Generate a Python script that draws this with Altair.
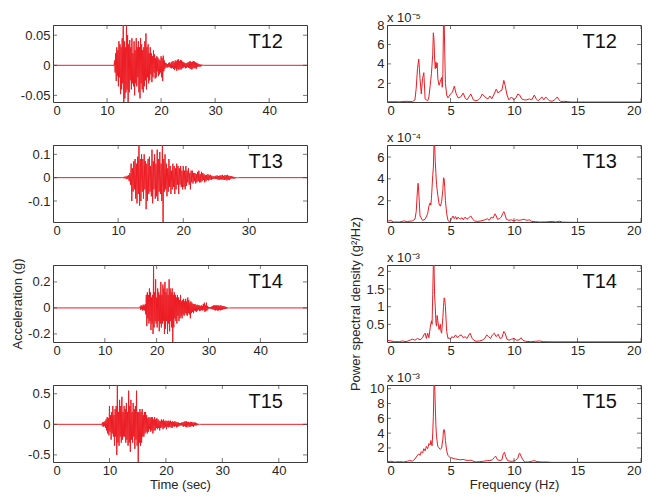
import altair as alt
import pandas as pd

FONT = "Liberation Sans"
RED = "#ED1C24"
BOX = "#3a3a3a"
TXT = "#262626"

names = ["T12", "T13", "T14", "T15"]

# ---- acceleration records (g), one sample every DT seconds from the onset time
DT = 0.1
acc_onset = {"T12": 11.4, "T13": 10.8, "T14": 16.8, "T15": 8.6}
acc_xmax = {"T12": 47, "T13": 39, "T14": 49, "T15": 45}
acc_ydom = {"T12": [-0.061, 0.067], "T13": [-0.19, 0.14], "T14": [-0.262, 0.33], "T15": [-0.616, 0.643]}
acc_yticks = {"T12": [-0.05, 0, 0.05], "T13": [-0.1, 0, 0.1], "T14": [-0.2, 0, 0.2], "T15": [-0.5, 0, 0.5]}
acc_xticks = {"T12": [0, 10, 20, 30, 40], "T13": [0, 10, 20, 30], "T14": [0, 10, 20, 30, 40], "T15": [0, 10, 20, 30, 40]}

acc_T12 = [0.008, -0.012, 0.02, -0.026, 0.03, -0.018,
           0.025, -0.035, 0.04, -0.02, 0.035, -0.048, 0.03, -0.04,
           0.045, -0.03, 0.075, -0.065, 0.04, -0.055, 0.03, -0.045, 0.075, -0.04, 0.05, -0.065,
           0.035, -0.045, 0.042, -0.025, 0.03, -0.04, 0.045, -0.03, 0.02, -0.035,
           0.04, -0.05, 0.025, -0.03, 0.045, -0.035, 0.03, -0.02, 0.04, -0.045,
           0.03, -0.055, 0.045, -0.03, 0.035, -0.04, 0.025, -0.045, 0.03, -0.035,
           0.04, -0.025, 0.053, -0.04, 0.03, -0.02, 0.035, -0.03, 0.02, -0.025,
           0.03, -0.015, 0.02, -0.028, 0.015, -0.02, 0.025, -0.012, 0.018, -0.022,
           0.012, -0.02, 0.015, -0.01, 0.013, -0.018, 0.01, -0.015, 0.008, -0.012,
           0.015, -0.02, 0.012, -0.026, 0.016, -0.01, 0.008, -0.006, 0.004, -0.003,
           0.003, -0.004, 0.002, -0.003, 0.004, -0.003, 0.005, -0.004, 0.003, -0.005,
           0.006, -0.004, 0.007, -0.006, 0.005, -0.008, 0.008, -0.005, 0.007, -0.009,
           0.009, -0.006, 0.01, -0.008, 0.007, -0.006, 0.009, -0.007, 0.008, -0.005,
           0.006, -0.004, 0.005, -0.003, 0.004, -0.005, 0.003, -0.004, 0.004, -0.003,
           0.005, -0.004, 0.006, -0.005, 0.007, -0.006, 0.005, -0.007, 0.006, -0.005,
           0.007, -0.005, 0.006, -0.004, 0.005, -0.006, 0.004, -0.003, 0.003, -0.002,
           0.002, -0.002, 0.0015, -0.002, 0.001, -0.001, 0.001, -0.0005, 0.0005]
acc_T13 = [0.002, -0.003, 0.004, -0.003, 0.005, -0.006, 0.008, -0.006, 0.01, -0.015,
           0.02, -0.03, 0.06, -0.1, 0.04, -0.06, 0.07, -0.05, 0.08, -0.09,
           0.06, -0.11, 0.09, -0.07, 0.15, -0.12, 0.08, -0.1, 0.1, -0.06,
           0.08, -0.09, 0.1, -0.05, 0.07, -0.135, 0.06, -0.1, 0.08, -0.07,
           0.09, -0.06, 0.05, -0.08, 0.12, -0.11, 0.07, -0.05, 0.1, -0.09,
           0.06, -0.08, 0.12, -0.1, 0.08, -0.06, 0.11, -0.07, 0.06, -0.1,
           0.15, -0.2, 0.08, -0.06, 0.1, -0.05, 0.06, -0.08, 0.04, -0.06,
           0.08, -0.04, 0.05, -0.07, 0.03, -0.05, 0.06, -0.04, 0.05, -0.07,
           0.04, -0.05, 0.06, -0.03, 0.05, -0.07, 0.04, -0.03, 0.05, -0.04,
           0.03, -0.05, 0.05, -0.04, 0.03, -0.05, 0.05, -0.035, 0.03, -0.02,
           0.04, -0.03, 0.02, -0.05, 0.03, -0.02, 0.03, -0.025, 0.02, -0.015,
           0.02, -0.025, 0.015, -0.02, 0.025, -0.015, 0.03, -0.02, 0.015, -0.02,
           0.025, -0.015, 0.02, -0.01, 0.015, -0.02, 0.01, -0.015, 0.012, -0.01,
           0.015, -0.012, 0.01, -0.008, 0.012, -0.01, 0.008, -0.006, 0.006, -0.005,
           0.005, -0.006, 0.008, -0.005, 0.01, -0.008, 0.007, -0.01, 0.009, -0.007,
           0.01, -0.008, 0.012, -0.009, 0.008, -0.01, 0.011, -0.008, 0.01, -0.012,
           0.012, -0.009, 0.008, -0.01, 0.007, -0.005, 0.006, -0.004, 0.005, -0.004,
           0.003, -0.004, 0.002, -0.002, 0.001, -0.001, 0.0005]
acc_T14 = [0.01, -0.015, 0.02, -0.01, 0.015, -0.02, 0.025, -0.015, 0.02, -0.02,
           0.03, -0.05, 0.1, -0.14, 0.12, -0.08, 0.1, -0.12, 0.15, -0.1,
           0.12, -0.17, 0.08, -0.12, 0.1, -0.2, 0.35, -0.15, 0.12, -0.1,
           0.22, -0.12, 0.08, -0.15, 0.15, -0.1, 0.12, -0.18, 0.1, -0.12,
           0.2, -0.15, 0.1, -0.12, 0.18, -0.1, 0.15, -0.2, 0.2, -0.16,
           0.12, -0.1, 0.15, -0.2, 0.1, -0.12, 0.22, -0.18, 0.15, -0.1,
           0.12, -0.15, 0.15, -0.27, 0.1, -0.15, 0.12, -0.08, 0.1, -0.1,
           0.08, -0.12, 0.1, -0.06, 0.08, -0.1, 0.06, -0.08, 0.1, -0.06,
           0.05, -0.08, 0.06, -0.05, 0.07, -0.06, 0.05, -0.04, 0.07, -0.05,
           0.05, -0.06, 0.08, -0.04, 0.06, -0.05, 0.04, -0.08, 0.05, -0.04,
           0.04, -0.03, 0.03, -0.04, 0.03, -0.02, 0.03, -0.025, 0.02, -0.03,
           0.025, -0.02, 0.02, -0.015, 0.02, -0.025, 0.015, -0.02, 0.02, -0.015,
           0.015, -0.02, 0.03, -0.015, 0.04, -0.03, 0.02, -0.025, 0.04, -0.02,
           0.015, -0.01, 0.008, -0.005, 0.005, -0.004, 0.006, -0.008, 0.01, -0.01,
           0.015, -0.012, 0.02, -0.015, 0.018, -0.02, 0.02, -0.015, 0.02, -0.02,
           0.018, -0.02, 0.02, -0.015, 0.015, -0.018, 0.02, -0.015, 0.015, -0.012,
           0.015, -0.01, 0.012, -0.008, 0.01, -0.008, 0.006, -0.005, 0.004, -0.003,
           0.002, -0.002, 0.001, -0.001]
acc_T15 = [0.01, -0.02, 0.03, -0.04, 0.04, -0.03, 0.05, -0.06, 0.08, -0.1,
           0.12, -0.15, 0.1, -0.18, 0.3, -0.12, 0.15, -0.25, 0.2, -0.15,
           0.3, -0.2, 0.15, -0.35, 0.25, -0.2, 0.3, -0.5, 0.68, -0.3,
           0.2, -0.35, 0.4, -0.2, 0.3, -0.3, 0.45, -0.25, 0.2, -0.2,
           0.3, -0.2, 0.25, -0.3, 0.35, -0.25, 0.2, -0.35, 0.55, -0.3,
           0.3, -0.45, 0.4, -0.25, 0.2, -0.3, 0.35, -0.2, 0.25, -0.4,
           0.3, -0.25, 0.55, -0.35, 0.2, -0.65, 0.2, -0.3, 0.25, -0.35,
           0.2, -0.3, 0.25, -0.2, 0.15, -0.2, 0.2, -0.15, 0.2, -0.12,
           0.15, -0.15, 0.1, -0.12, 0.12, -0.08, 0.1, -0.12, 0.12, -0.1,
           0.12, -0.15, 0.08, -0.1, 0.12, -0.1, 0.08, -0.06, 0.1, -0.08,
           0.08, -0.06, 0.06, -0.1, 0.05, -0.06, 0.08, -0.05, 0.06, -0.08,
           0.08, -0.06, 0.05, -0.04, 0.06, -0.08, 0.05, -0.04, 0.06, -0.05,
           0.05, -0.04, 0.06, -0.05, 0.04, -0.06, 0.05, -0.03, 0.04, -0.04,
           0.05, -0.03, 0.04, -0.05, 0.03, -0.04, 0.03, -0.03, 0.02, -0.02,
           0.02, -0.02, 0.03, -0.02, 0.03, -0.04, 0.04, -0.03, 0.05, -0.04,
           0.05, -0.05, 0.04, -0.03, 0.04, -0.04, 0.03, -0.04, 0.04, -0.03,
           0.04, -0.03, 0.03, -0.04, 0.03, -0.02, 0.03, -0.02, 0.02, -0.015,
           0.01, -0.01, 0.005, -0.003, 0.002]
acc_values = {"T12": acc_T12, "T13": acc_T13, "T14": acc_T14, "T15": acc_T15}

# ---- power spectral density (frequency Hz, PSD in units of 10^exp g^2/Hz)
psd_T12 = [(0.0, 0.1), (0.5, 0.12), (1.0, 0.1), (1.5, 0.15), (2.0, 0.12), (2.2, 0.3), (2.3, 1.5), (2.4, 3.5),
           (2.5, 4.5), (2.6, 2.5), (2.7, 0.9), (2.8, 2.5), (2.9, 3.1), (3.0, 0.4), (3.1, 0.3), (3.2, 0.2),
           (3.3, 0.6), (3.4, 1.8), (3.5, 3.0), (3.6, 5.0), (3.65, 7.2), (3.7, 6.5), (3.75, 4.5), (3.8, 3.5),
           (3.85, 4.2), (3.9, 3.6), (3.95, 4.1), (4.0, 2.5), (4.1, 1.8), (4.2, 2.2), (4.3, 2.6), (4.35, 1.6),
           (4.4, 3.0), (4.45, 8.5), (4.5, 8.5), (4.55, 5.0), (4.6, 2.0), (4.7, 0.8), (4.8, 0.5), (4.9, 0.7),
           (5.0, 0.9), (5.15, 1.1), (5.3, 1.7), (5.45, 0.9), (5.6, 0.5), (5.8, 0.6), (6.0, 1.0), (6.15, 0.5),
           (6.3, 0.3), (6.45, 0.6), (6.6, 0.9), (6.8, 0.3), (7.0, 0.2), (7.2, 0.3), (7.35, 0.5), (7.5, 0.9),
           (7.65, 0.7), (7.8, 0.5), (7.95, 0.4), (8.1, 0.7), (8.25, 0.4), (8.4, 0.8), (8.6, 1.4), (8.75, 1.0),
           (8.9, 1.2), (9.05, 1.3), (9.2, 2.3), (9.3, 1.8), (9.45, 0.8), (9.6, 0.3), (9.8, 0.6), (10.0, 0.3),
           (10.15, 0.5), (10.3, 0.9), (10.45, 0.8), (10.6, 0.4), (10.8, 0.3), (11.0, 0.3), (11.2, 0.4), (11.4, 0.3),
           (11.6, 0.8), (11.75, 0.4), (11.9, 0.2), (12.05, 0.4), (12.2, 0.6), (12.35, 0.3), (12.5, 0.6), (12.65, 0.4),
           (12.8, 0.2), (13.0, 0.15), (13.2, 0.3), (13.4, 0.6), (13.55, 0.3), (13.7, 0.1), (13.9, 0.15), (14.5, 0.08),
           (16.0, 0.08), (20.0, 0.08)]
psd_T13 = [(0.0, 0.1), (0.3, 0.2), (0.5, 0.05), (1.0, 0.05), (1.3, 0.15), (1.6, 0.1), (2.0, 0.15), (2.2, 0.3),
           (2.3, 1.0), (2.4, 3.0), (2.45, 3.6), (2.5, 2.8), (2.6, 0.6), (2.8, 0.2), (3.0, 0.3), (3.2, 0.8),
           (3.3, 1.5), (3.4, 1.8), (3.45, 1.6), (3.5, 2.2), (3.6, 4.3), (3.65, 5.0), (3.7, 7.2), (3.75, 7.2),
           (3.8, 5.6), (3.85, 4.5), (3.9, 3.5), (4.0, 2.5), (4.1, 1.7), (4.2, 1.5), (4.3, 1.9), (4.4, 3.0),
           (4.45, 4.1), (4.5, 4.0), (4.55, 3.2), (4.6, 2.0), (4.7, 0.8), (4.8, 0.2), (4.9, 0.1), (5.0, 0.15),
           (5.1, 0.4), (5.2, 0.6), (5.3, 0.35), (5.4, 0.55), (5.5, 0.3), (5.6, 0.5), (5.75, 0.3), (5.9, 0.45),
           (6.0, 0.25), (6.15, 0.5), (6.3, 0.3), (6.45, 0.45), (6.6, 0.6), (6.75, 0.3), (6.9, 0.15), (7.1, 0.1),
           (7.4, 0.15), (7.7, 0.25), (7.9, 0.35), (8.05, 0.2), (8.2, 0.5), (8.35, 0.4), (8.5, 0.8), (8.6, 0.6),
           (8.7, 0.3), (8.85, 0.35), (9.0, 0.5), (9.1, 0.8), (9.2, 1.0), (9.3, 0.7), (9.4, 0.3), (9.6, 0.2),
           (9.8, 0.25), (10.0, 0.15), (10.2, 0.25), (10.4, 0.2), (10.6, 0.25), (10.8, 0.3), (11.0, 0.2), (11.2, 0.25),
           (11.4, 0.1), (11.7, 0.08), (12.0, 0.05), (12.5, 0.06), (13.0, 0.1), (13.3, 0.05), (13.6, 0.12), (13.8, 0.04),
           (14.5, 0.02), (20.0, 0.02)]
psd_T14 = [(0.0, 0.05), (0.3, 0.03), (0.6, 0.01), (1.0, 0.01), (1.2, 0.03), (1.5, 0.01), (1.8, 0.05), (2.0, 0.08),
           (2.2, 0.05), (2.4, 0.1), (2.6, 0.06), (2.8, 0.12), (2.9, 0.2), (3.0, 0.25), (3.1, 0.1), (3.2, 0.25),
           (3.3, 0.12), (3.4, 0.4), (3.5, 0.6), (3.55, 0.5), (3.6, 1.35), (3.65, 2.2), (3.7, 2.2), (3.75, 1.3),
           (3.8, 1.0), (3.85, 0.55), (3.9, 0.45), (3.95, 0.75), (4.0, 0.6), (4.1, 0.35), (4.2, 0.5), (4.25, 0.3),
           (4.3, 0.25), (4.4, 0.7), (4.45, 1.0), (4.5, 1.25), (4.55, 1.2), (4.6, 1.0), (4.7, 0.3), (4.8, 0.1),
           (4.9, 0.12), (5.0, 0.08), (5.1, 0.15), (5.25, 0.12), (5.4, 0.2), (5.55, 0.12), (5.7, 0.18), (5.85, 0.2),
           (6.0, 0.12), (6.15, 0.15), (6.3, 0.1), (6.45, 0.2), (6.55, 0.25), (6.7, 0.1), (6.85, 0.05), (7.0, 0.02),
           (7.3, 0.03), (7.5, 0.05), (7.7, 0.1), (7.85, 0.2), (8.0, 0.15), (8.15, 0.1), (8.3, 0.2), (8.45, 0.25),
           (8.6, 0.15), (8.75, 0.22), (8.9, 0.1), (9.05, 0.12), (9.2, 0.3), (9.3, 0.25), (9.45, 0.08), (9.6, 0.05),
           (9.8, 0.08), (10.0, 0.1), (10.2, 0.05), (10.4, 0.06), (10.55, 0.12), (10.7, 0.05), (10.9, 0.02), (11.3, 0.01),
           (11.7, 0.02), (12.0, 0.03), (12.3, 0.01), (13.0, 0.005), (20.0, 0.005)]
psd_T15 = [(0.0, 0.15), (0.3, 0.2), (0.6, 0.1), (1.0, 0.15), (1.3, 0.1), (1.6, 0.2), (1.8, 0.3), (2.0, 0.2),
           (2.2, 0.5), (2.35, 0.9), (2.5, 1.2), (2.6, 1.0), (2.7, 1.5), (2.8, 1.3), (2.9, 1.9), (3.0, 1.6),
           (3.1, 2.2), (3.2, 1.9), (3.3, 2.6), (3.4, 2.4), (3.45, 3.0), (3.55, 2.3), (3.6, 4.0), (3.65, 6.2),
           (3.7, 10.6), (3.75, 10.6), (3.8, 7.8), (3.85, 5.0), (3.9, 3.5), (4.0, 2.2), (4.1, 2.0), (4.2, 1.8),
           (4.3, 2.0), (4.4, 3.2), (4.45, 4.4), (4.5, 4.5), (4.55, 4.0), (4.6, 3.0), (4.7, 1.6), (4.8, 1.0),
           (4.9, 0.8), (5.0, 0.7), (5.2, 0.6), (5.4, 0.5), (5.6, 0.45), (5.8, 0.4), (6.0, 0.45), (6.2, 0.35),
           (6.4, 0.3), (6.6, 0.35), (6.8, 0.2), (7.0, 0.1), (7.3, 0.15), (7.6, 0.2), (7.9, 0.3), (8.1, 0.3),
           (8.3, 0.4), (8.45, 0.7), (8.55, 0.9), (8.7, 0.4), (8.9, 0.3), (9.05, 0.4), (9.15, 1.2), (9.25, 1.4),
           (9.35, 0.8), (9.5, 0.3), (9.7, 0.2), (9.9, 0.2), (10.1, 0.3), (10.3, 0.6), (10.4, 1.2), (10.45, 1.3),
           (10.55, 0.9), (10.7, 0.4), (10.85, 0.1), (11.1, 0.1), (11.4, 0.2), (11.6, 0.3), (11.8, 0.15), (12.2, 0.1),
           (12.6, 0.1), (13.0, 0.05), (20.0, 0.05)]
psd_values = {"T12": psd_T12, "T13": psd_T13, "T14": psd_T14, "T15": psd_T15}
psd_exp = {"T12": "-5", "T13": "-4", "T14": "-3", "T15": "-3"}
psd_ydom = {"T12": [0.08, 8.0], "T13": [0.05, 7.1], "T14": [0.0, 2.18], "T15": [0.1, 10.5]}
psd_yticks = {"T12": [2, 4, 6, 8], "T13": [2, 4, 6], "T14": [0.5, 1, 1.5, 2], "T15": [2, 4, 6, 8, 10]}
psd_xdom = [0, 20]
psd_xticks = [0, 5, 10, 15, 20]

SUP = {"-": "\u207b", "3": "\u00b3", "4": "\u2074", "5": "\u2075"}

W, H = 254, 77


def panel(df, xdom, xticks, ydom, yticks, name, xtitle=None, ytitle=None, mult=None, ytitle_pad=3):
    xax = alt.Axis(values=xticks, labelExpr="toString(datum.value)", title=xtitle,
                   labelPadding=2, titlePadding=1)
    yax = alt.Axis(values=yticks, labelExpr="toString(datum.value)", title=ytitle, titlePadding=ytitle_pad)
    X = alt.X("x:Q", scale=alt.Scale(domain=xdom, nice=False, zero=False), axis=xax)
    Y = alt.Y("y:Q", scale=alt.Scale(domain=ydom, nice=False, zero=False), axis=yax)
    line = alt.Chart(df).mark_line(color=RED, strokeWidth=1, clip=True).encode(x=X, y=Y)
    yt = pd.DataFrame([{"x": xv, "y": v} for v in yticks for xv in xdom])
    xt = pd.DataFrame([{"x": v, "y": yv} for v in xticks for yv in ydom])
    ytk = alt.Chart(yt).mark_tick(orient="horizontal", size=8, thickness=1, color=BOX, clip=True).encode(x=X, y=Y)
    xtk = alt.Chart(xt).mark_tick(orient="vertical", size=8, thickness=1, color=BOX, clip=True).encode(x=X, y=Y)
    lab = alt.Chart(pd.DataFrame({"name": [name]})).mark_text(
        align="right", baseline="top", font=FONT, fontSize=20, color="#111"
    ).encode(x=alt.value(W - 24), y=alt.value(7), text="name:N")
    layers = [line, ytk, xtk, lab]
    if mult:
        layers.append(alt.Chart(pd.DataFrame({"m": [mult]})).mark_text(
            align="left", baseline="alphabetic", font=FONT, fontSize=13, color=TXT
        ).encode(x=alt.value(0), y=alt.value(-3), text="m:N"))
    return alt.layer(*layers).properties(width=W, height=H)


panels = []
for n in names:
    vals = acc_values[n]
    t0 = acc_onset[n]
    rows = [{"x": 0.0, "y": 0.0}, {"x": round(t0 - DT, 3), "y": 0.0}]
    rows += [{"x": round(t0 + DT * k, 3), "y": v} for k, v in enumerate(vals)]
    rows += [{"x": round(t0 + DT * len(vals), 3), "y": 0.0}, {"x": float(acc_xmax[n]), "y": 0.0}]
    acc_df = pd.DataFrame(rows)
    left = panel(acc_df, [0, acc_xmax[n]], acc_xticks[n], acc_ydom[n], acc_yticks[n], n,
                 xtitle="Time (sec)" if n == "T15" else None,
                 ytitle="Acceleration (g)" if n == "T14" else None)
    psd_df = pd.DataFrame(psd_values[n], columns=["x", "y"])
    sup = "".join(SUP[c] for c in psd_exp[n])
    right = panel(psd_df, psd_xdom, psd_xticks, psd_ydom[n], psd_yticks[n], n,
                  xtitle="Frequency (Hz)" if n == "T15" else None,
                  ytitle="Power spectral density (g\u00b2/Hz)" if n == "T14" else None,
                  mult="x 10" + sup)
    panels += [left, right]

chart = alt.concat(*panels, columns=2, spacing={"row": 43, "column": 80}, bounds="flush").properties(
    padding={"top": 3, "left": 3, "right": 0, "bottom": 0}
).configure_view(stroke=BOX, strokeWidth=1).configure_axis(
    domain=False, ticks=False, grid=False, labelFont=FONT, labelFontSize=13, labelColor=TXT,
    labelPadding=3, titleFont=FONT, titleFontSize=13, titleFontWeight="normal", titleColor=TXT,
    titlePadding=1
)

chart.save("out.html", embed_options={"renderer": "svg", "actions": False})
